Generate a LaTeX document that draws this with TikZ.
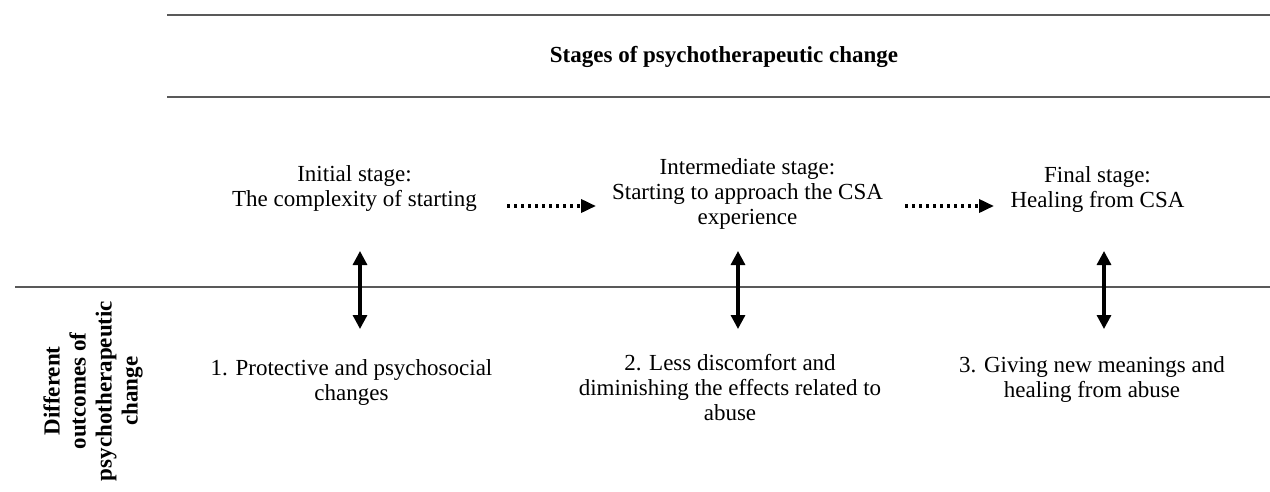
\documentclass[tikz,border=0pt]{standalone}
\usepackage{fontspec}
\setmainfont{Liberation Serif}
\usetikzlibrary{arrows.meta}
\begin{document}
\begin{tikzpicture}[x=1pt,y=-1pt,
  rule/.style={line width=1.8pt, draw=black!65},
  txt/.style={align=center, inner sep=0pt, font=\fontsize{23}{25}\selectfont},
  bold/.style={align=center, inner sep=0pt, font=\fontsize{23}{26}\selectfont\bfseries},
  dbl/.style={line width=3.2pt, {Triangle[width=14pt,length=14pt]}-{Triangle[width=14pt,length=14pt]}},
  dotarrow/.style={line width=3.6pt, dash pattern=on 3pt off 4pt, -{Triangle[width=13pt,length=15pt]}}
]
\path[use as bounding box] (0,0) rectangle (1270,491);

% rules
\coordinate (r1a) at (167,15);  \coordinate (r1b) at (1270,15);
\coordinate (r2a) at (167,97);  \coordinate (r2b) at (1270,97);
\coordinate (r3a) at (15,287);  \coordinate (r3b) at (1270,287);
\draw[rule] (r1a) -- (r1b);
\draw[rule] (r2a) -- (r2b);
\draw[rule] (r3a) -- (r3b);

% title
\node[bold] (title) at (724,57) {Stages of psychotherapeutic change};

% stages
\node[txt] (init) at (354.5,188) {Initial stage:\\The complexity of starting};
\node[txt] (mid) at (747.5,194) {Intermediate stage:\\Starting to approach the CSA\\experience};
\node[txt] (fin) at (1097.5,189) {Final stage:\\Healing from CSA};

% outcomes
\node[txt] (o1) at (351.5,382.5) {1. Protective and psychosocial\\changes};
\node[txt] (o2) at (730,387.5) {2. Less discomfort and\\diminishing the effects related to\\abuse};
\node[txt] (o3) at (1092,379.5) {3. Giving new meanings and\\healing from abuse};

% side label
\node[bold, rotate=90] (side) at (93,391) {Different\\outcomes of\\psychotherapeutic\\change};

% dotted arrows
\coordinate (d1a) at (507,206); \coordinate (d1b) at (596,206);
\coordinate (d2a) at (905,206); \coordinate (d2b) at (994,206);
\draw[dotarrow] (d1a) -- (d1b);
\draw[dotarrow] (d2a) -- (d2b);

% double arrows
\coordinate (a1t) at (360,251); \coordinate (a1b) at (360,329);
\coordinate (a2t) at (738,251); \coordinate (a2b) at (738,329);
\coordinate (a3t) at (1104,251); \coordinate (a3b) at (1104,329);
\draw[dbl] (a1t) -- (a1b);
\draw[dbl] (a2t) -- (a2b);
\draw[dbl] (a3t) -- (a3b);
\end{tikzpicture}
\end{document}
